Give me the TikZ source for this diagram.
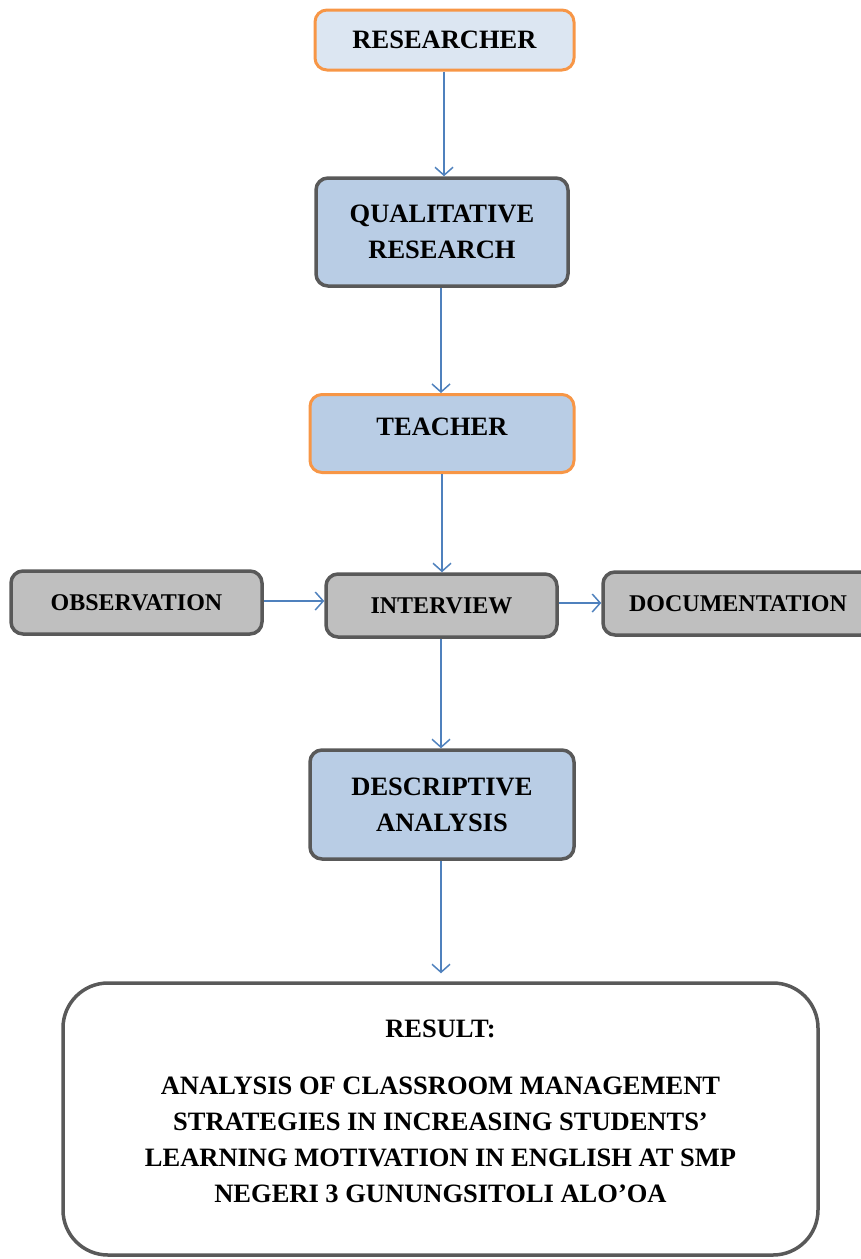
\documentclass[tikz,border=0pt]{standalone}
\usepackage{fontspec}
\setmainfont{Liberation Serif}
\usepackage{xcolor}
\usetikzlibrary{arrows.meta}
\definecolor{ink}{HTML}{000000}
\definecolor{sOrange}{HTML}{F79646}
\definecolor{sSlate}{HTML}{595959}
\definecolor{sSky}{HTML}{B9CDE5}
\definecolor{sPale}{HTML}{DCE6F2}
\definecolor{sSilver}{HTML}{BFBFBF}
\definecolor{sLink}{HTML}{4F81BD}
\tikzset{
  stage/.style={rectangle, rounded corners=12pt, align=center, text=ink, inner sep=0pt,
    font=\bfseries\fontsize{26.5}{36}\selectfont},
  actor/.style={stage, draw=sOrange, line width=3pt},
  block/.style={stage, draw=sSlate, line width=3.5pt, fill=sSky},
  method/.style={stage, draw=sSlate, line width=3.5pt, fill=sSilver, minimum height=63pt,
    font=\bfseries\fontsize{24}{30}\selectfont},
  flow/.style={-{Straight Barb[length=8pt, width=18pt, line width=1.5pt]}, sLink, line width=1.5pt},
}

\begin{document}
\begin{tikzpicture}[x=1pt, y=-1pt]
\useasboundingbox (0,0) rectangle (860,1259);
\node[actor, fill=sPale, minimum width=259pt, minimum height=60pt] (researcher) at (444.5,40) {RESEARCHER};
\node[block, minimum width=252pt, minimum height=108pt] (qualitative) at (442,232) {QUALITATIVE\\RESEARCH};
\node[actor, fill=sSky, minimum width=264pt, text height=41pt, text depth=37pt, anchor=north] (teacher) at (442,393) {TEACHER};
\node[method, minimum width=251pt] (observation) at (136.5,602.5) {OBSERVATION};
\node[method, minimum width=231pt] (interview) at (441.5,605.5) {INTERVIEW};
\node[method, minimum width=270pt] (documentation) at (738,603.5) {DOCUMENTATION};
\node[block, minimum width=264pt, minimum height=109pt] (descriptive) at (442,804.5) {DESCRIPTIVE\\ANALYSIS};
\node[stage, draw=sSlate, line width=3.5pt, fill=white, rounded corners=45pt, minimum width=755pt, minimum height=272pt] (result) at (440.5,1119) {};
\node[stage] (resulttext) at (440.5,1111)
  {RESULT:\\[21pt] ANALYSIS OF CLASSROOM MANAGEMENT\\ STRATEGIES IN INCREASING STUDENTS'\\ LEARNING MOTIVATION IN ENGLISH AT SMP\\ NEGERI 3 GUNUNGSITOLI ALO'OA};
% connectors
\draw[flow] (researcher.south -| 444,0) -- (qualitative.north -| 444,0);
\draw[flow] (qualitative.south -| 441,0) -- (teacher.north -| 441,0);
\draw[flow] (teacher.south -| 442,0) -- (interview.north -| 442,0);
\draw[flow] (observation.east |- 0,601) -- (interview.west |- 0,601);
\draw[flow] (interview.east |- 0,603) -- (documentation.west |- 0,603);
\draw[flow] (interview.south -| 441,0) -- (descriptive.north -| 441,0);
\draw[flow, shorten >=8pt] (descriptive.south -| 441,0) -- (result.north -| 441,0);
\end{tikzpicture}
\end{document}
